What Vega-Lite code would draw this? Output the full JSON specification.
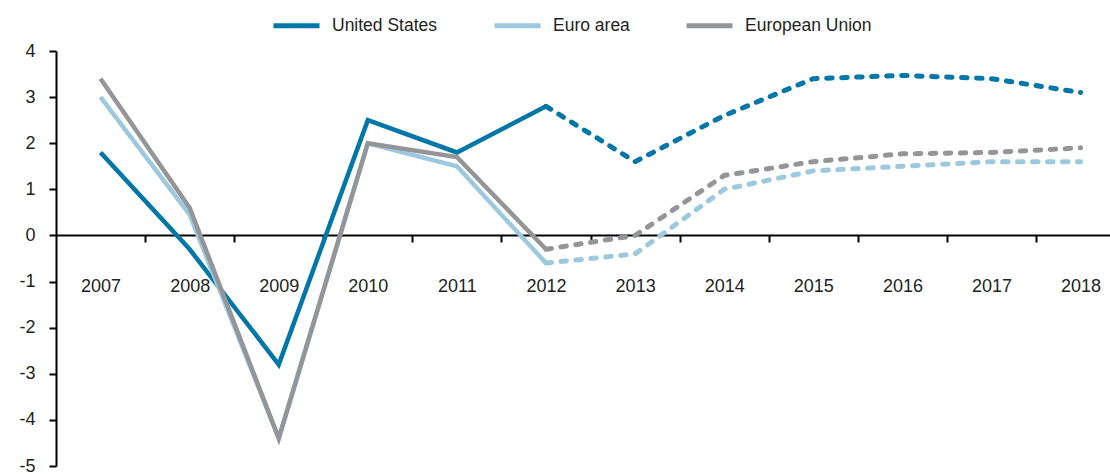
{
  "$schema": "https://vega.github.io/schema/vega-lite/v6.json",
  "width": 1054,
  "height": 415,
  "autosize": {"type": "none"},
  "padding": {"left": 56, "top": 51, "right": 0, "bottom": 8},
  "background": "white",
  "config": {"view": {"stroke": null}, "font": "Liberation Sans"},
  "data": {
    "values": [
      {"year": 2007, "series": "United States", "value": 1.8, "part": "actual"},
      {"year": 2008, "series": "United States", "value": -0.3, "part": "actual"},
      {"year": 2009, "series": "United States", "value": -2.8, "part": "actual"},
      {"year": 2010, "series": "United States", "value": 2.5, "part": "actual"},
      {"year": 2011, "series": "United States", "value": 1.8, "part": "actual"},
      {"year": 2012, "series": "United States", "value": 2.8, "part": "actual"},
      {"year": 2007, "series": "Euro area", "value": 3.0, "part": "actual"},
      {"year": 2008, "series": "Euro area", "value": 0.45, "part": "actual"},
      {"year": 2009, "series": "Euro area", "value": -4.4, "part": "actual"},
      {"year": 2010, "series": "Euro area", "value": 2.0, "part": "actual"},
      {"year": 2011, "series": "Euro area", "value": 1.5, "part": "actual"},
      {"year": 2012, "series": "Euro area", "value": -0.6, "part": "actual"},
      {"year": 2007, "series": "European Union", "value": 3.4, "part": "actual"},
      {"year": 2008, "series": "European Union", "value": 0.6, "part": "actual"},
      {"year": 2009, "series": "European Union", "value": -4.4, "part": "actual"},
      {"year": 2010, "series": "European Union", "value": 2.0, "part": "actual"},
      {"year": 2011, "series": "European Union", "value": 1.7, "part": "actual"},
      {"year": 2012, "series": "European Union", "value": -0.3, "part": "actual"},
      {"year": 2012, "series": "United States", "value": 2.8, "part": "forecast"},
      {"year": 2013, "series": "United States", "value": 1.6, "part": "forecast"},
      {"year": 2014, "series": "United States", "value": 2.6, "part": "forecast"},
      {"year": 2015, "series": "United States", "value": 3.4, "part": "forecast"},
      {"year": 2016, "series": "United States", "value": 3.47, "part": "forecast"},
      {"year": 2017, "series": "United States", "value": 3.4, "part": "forecast"},
      {"year": 2018, "series": "United States", "value": 3.1, "part": "forecast"},
      {"year": 2012, "series": "Euro area", "value": -0.6, "part": "forecast"},
      {"year": 2013, "series": "Euro area", "value": -0.4, "part": "forecast"},
      {"year": 2014, "series": "Euro area", "value": 1.0, "part": "forecast"},
      {"year": 2015, "series": "Euro area", "value": 1.4, "part": "forecast"},
      {"year": 2016, "series": "Euro area", "value": 1.5, "part": "forecast"},
      {"year": 2017, "series": "Euro area", "value": 1.6, "part": "forecast"},
      {"year": 2018, "series": "Euro area", "value": 1.6, "part": "forecast"},
      {"year": 2012, "series": "European Union", "value": -0.3, "part": "forecast"},
      {"year": 2013, "series": "European Union", "value": 0.0, "part": "forecast"},
      {"year": 2014, "series": "European Union", "value": 1.3, "part": "forecast"},
      {"year": 2015, "series": "European Union", "value": 1.6, "part": "forecast"},
      {"year": 2016, "series": "European Union", "value": 1.77, "part": "forecast"},
      {"year": 2017, "series": "European Union", "value": 1.8, "part": "forecast"},
      {"year": 2018, "series": "European Union", "value": 1.9, "part": "forecast"}
    ]
  },
  "encoding": {
    "x": {
      "field": "year",
      "type": "quantitative",
      "scale": {"domain": [2006.5, 2018.33], "nice": false, "zero": false},
      "axis": {
        "title": null,
        "values": [2007, 2008, 2009, 2010, 2011, 2012, 2013, 2014, 2015, 2016, 2017, 2018],
        "format": "d",
        "offset": -231,
        "grid": false,
        "domainColor": "black",
        "domainWidth": 2,
        "tickColor": "black",
        "tickSize": 7,
        "tickWidth": 2,
        "tickOffset": 44.55,
        "labelOffset": -44.55,
        "labelPadding": 35,
        "labelFontSize": 18,
        "labelColor": "#231f20",
        "labelFlush": false,
        "labelOverlap": false
      }
    },
    "y": {
      "field": "value",
      "type": "quantitative",
      "scale": {"domain": [-5, 4], "nice": false},
      "axis": {
        "title": null,
        "values": [-5, -4, -3, -2, -1, 0, 1, 2, 3, 4],
        "labelExpr": "replace(datum.label, '−', '-')",
        "grid": false,
        "domainColor": "black",
        "domainWidth": 2,
        "tickColor": "black",
        "tickSize": 7,
        "tickWidth": 2,
        "labelPadding": 14,
        "labelFontSize": 18,
        "labelColor": "#231f20",
        "labelFlush": false,
        "labelOverlap": false
      }
    },
    "color": {
      "field": "series",
      "type": "nominal",
      "scale": {
        "domain": ["United States", "Euro area", "European Union"],
        "range": ["#0077a8", "#9dc9df", "#949599"]
      },
      "legend": {
        "orient": "none",
        "legendX": 215,
        "legendY": -51,
        "direction": "horizontal",
        "title": null,
        "symbolType": "stroke",
        "symbolSize": 2116,
        "symbolStrokeWidth": 5,
        "labelFontSize": 17.5,
        "labelOffset": 10,
        "columnPadding": 46,
        "labelColor": "#231f20"
      }
    }
  },
  "layer": [
    {
      "transform": [{"filter": "datum.part === 'actual'"}],
      "mark": {"type": "line", "strokeWidth": 4.5, "strokeCap": "butt", "strokeJoin": "miter"}
    },
    {
      "transform": [{"filter": "datum.part === 'forecast'"}],
      "mark": {"type": "line", "strokeWidth": 5, "strokeCap": "round", "strokeDash": [5.5, 9.5]}
    }
  ]
}
